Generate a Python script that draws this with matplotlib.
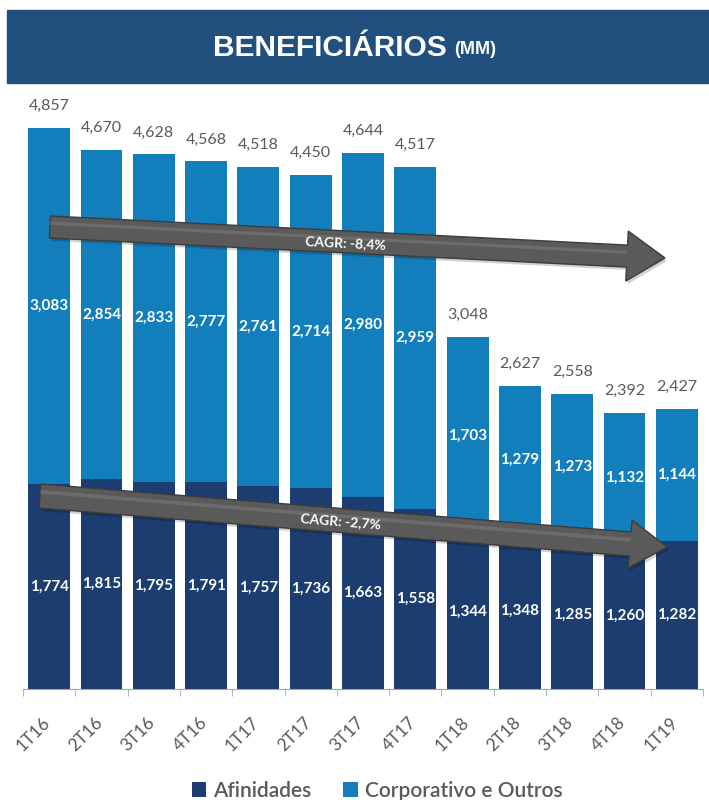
import numpy as np
import matplotlib.pyplot as plt
from matplotlib.patches import Polygon, Rectangle
from matplotlib import transforms

quarters = ["1T16", "2T16", "3T16", "4T16", "1T17", "2T17", "3T17",
            "4T17", "1T18", "2T18", "3T18", "4T18", "1T19"]
afinidades = [1774, 1815, 1795, 1791, 1757, 1736, 1663, 1558, 1344, 1348, 1285, 1260, 1282]
corporativo = [3083, 2854, 2833, 2777, 2761, 2714, 2980, 2959, 1703, 1279, 1273, 1132, 1144]
totals = [4857, 4670, 4628, 4568, 4518, 4450, 4644, 4517, 3048, 2627, 2558, 2392, 2427]
cagr_labels = ["CAGR: -8,4%", "CAGR: -2,7%"]

c_dark = "#1b3d70"
c_light = "#127fbc"
c_band = "#22507e"
c_gray = "#595959"

plt.rcParams['font.family'] = ['Lato', 'DejaVu Sans']

W, H = 709, 800
fig = plt.figure(figsize=(W / 100, H / 100), dpi=100)

# main bar axes placed in pixel terms
x0, x1 = 23, 703
y_base, y_top = 689, 689 - 600.6
ax = fig.add_axes([x0 / W, 1 - y_base / H, (x1 - x0) / W, (y_base - y_top) / H])
x = np.arange(len(quarters))
bw = 0.80
ax.bar(x, afinidades, bw, color=c_dark, label="Afinidades", zorder=2)
ax.bar(x, corporativo, bw, bottom=afinidades, color=c_light,
       label="Corporativo e Outros", zorder=2)
ax.set_xlim(-0.5, len(quarters) - 0.5)
ax.set_ylim(0, 5200)

for i in range(len(quarters)):
    ax.text(x[i], afinidades[i] / 2, f"{afinidades[i]:,}", ha='center', va='center',
            color='white', fontsize=11, fontweight='bold', zorder=3)
    ax.text(x[i], afinidades[i] + corporativo[i] / 2, f"{corporativo[i]:,}",
            ha='center', va='center', color='white', fontsize=11,
            fontweight='bold', zorder=3)
    ax.text(x[i], totals[i] + 190, f"{totals[i]:,}", ha='center', va='center',
            color=c_gray, fontsize=11.5, zorder=3)

for s in ['top', 'right', 'left']:
    ax.spines[s].set_visible(False)
ax.spines['bottom'].set_color('#a6a6a6')
ax.set_yticks([])
ax.set_xticks(x)
ax.set_xticks(np.arange(-0.5, len(quarters), 1), minor=True)
ax.tick_params(axis='x', which='major', length=0, pad=18)
ax.tick_params(axis='x', which='minor', length=5, color='#a6a6a6')
ax.set_xticklabels(quarters, rotation=45, ha='right', va='top',
                   rotation_mode='anchor', color=c_gray, fontsize=12.5)
shift = transforms.ScaledTranslation(-0.07, 0, fig.dpi_scale_trans)
for lbl in ax.get_xticklabels():
    lbl.set_transform(lbl.get_transform() + shift)

# overlay in pixel coordinates for the header band and trend arrows
ov = fig.add_axes([0, 0, 1, 1], zorder=5)
ov.set_xlim(0, W)
ov.set_ylim(H, 0)
ov.axis('off')
ov.patch.set_alpha(0)

ov.add_patch(Rectangle((7, 10), W - 7, 73, color=c_band))
ov.text(447, 48, "BENEFICIÁRIOS", ha='right', va='center', color='white',
        fontsize=21.5, fontweight='bold',
        family=['Liberation Sans Narrow', 'Liberation Sans'])
ov.text(454, 50, "(MM)", ha='left', va='center', color='white',
        fontsize=13, fontweight='bold',
        family=['Liberation Sans Narrow', 'Liberation Sans'])


def arrow(p0, p1, w, hw, hl, text):
    p0, p1 = np.array(p0, float), np.array(p1, float)
    d = (p1 - p0) / np.linalg.norm(p1 - p0)
    n = np.array([d[1], -d[0]])  # points "up" on screen
    base = p1 - d * hl
    pts = [p0 + n * w, base + n * w, base + n * hw, p1,
           base - n * hw, base - n * w, p0 - n * w]
    shadow = [p + np.array([2, 3]) for p in pts]
    ov.add_patch(Polygon(shadow, closed=True, color='#000000', alpha=0.18, lw=0))
    ov.add_patch(Polygon(pts, closed=True, facecolor='#5a5a5a',
                         edgecolor='#3c3c3c', lw=1.0))
    hl_pts = [p0 + n * (w * 0.5), base + n * (w * 0.5),
              base + n * (w * 0.2), p0 + n * (w * 0.2)]
    ov.add_patch(Polygon(hl_pts, closed=True, color='#747474', lw=0, alpha=0.7))
    mid = p0 + (p1 - p0) * 0.48
    ang = -np.degrees(np.arctan2(d[1], d[0]))
    ov.text(mid[0], mid[1] + 1, text, ha='center', va='center', color='white',
            fontsize=10, fontweight='bold', rotation=ang, rotation_mode='anchor')


arrow((50, 227), (665, 258), 11, 25, 38, cagr_labels[0])
arrow((40, 496), (667, 547), 12, 24, 37, cagr_labels[1])

h, l = ax.get_legend_handles_labels()
fig.legend(h, l, loc='center', bbox_to_anchor=(377 / W, 1 - 791 / H), ncol=2,
           frameon=False, handlelength=0.7, handleheight=0.7,
           handletextpad=0.35, columnspacing=1.5, labelcolor=c_gray,
           prop={'weight': 'semibold', 'size': 15})

fig.savefig("out.png", dpi=100, facecolor='white')
